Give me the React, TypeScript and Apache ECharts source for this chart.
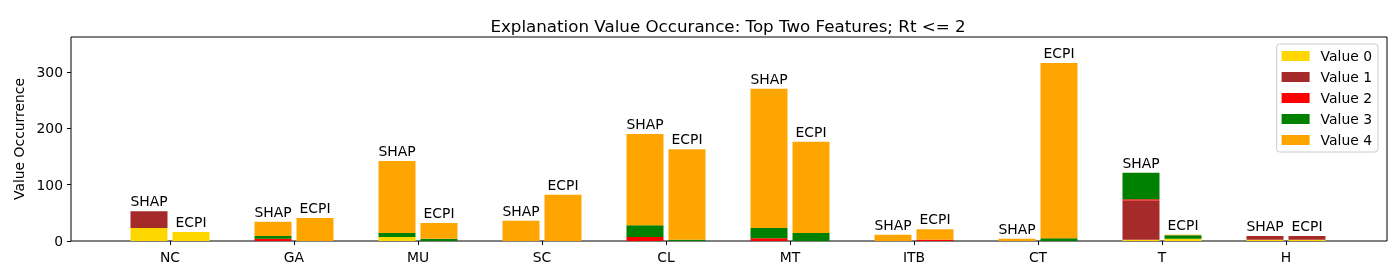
import React, { useEffect, useRef } from "react";
import * as echarts from "echarts";

const categories = ["NC", "GA", "MU", "SC", "CL", "MT", "ITB", "CT", "T", "H"];
const valueNames = ["Value 0", "Value 1", "Value 2", "Value 3", "Value 4"];
const valueColors = ["#FFD700", "#A52A2A", "#FF0000", "#008000", "#FFA500"];

// SHAP stacks
const shapV0 = [23, 0, 7, 0, 0, 0, 0, 0, 2, 2];
const shapV1 = [30, 0, 0, 0, 0, 0, 0, 0, 70, 7];
const shapV2 = [0, 4, 0, 0, 7, 5, 0, 0, 2, 0];
const shapV3 = [0, 5, 7, 0, 21, 18, 0, 0, 47, 0];
const shapV4 = [0, 25, 128, 36, 162, 247, 11, 4, 0, 0];

// ECPI stacks
const ecpiV0 = [16, 0, 0, 0, 0, 0, 0, 0, 4, 2];
const ecpiV1 = [0, 0, 0, 0, 0, 0, 0, 0, 0, 7];
const ecpiV2 = [0, 0, 0, 0, 0, 0, 2, 0, 0, 0];
const ecpiV3 = [0, 0, 4, 0, 2, 14, 0, 5, 6, 0];
const ecpiV4 = [0, 41, 28, 82, 161, 162, 19, 311, 1, 0];

const yTicks = [0, 100, 200, 300];
const yMax = 362;

const FONT = "DejaVu Sans";

export default function App() {
  const ref = useRef<HTMLDivElement>(null);
  useEffect(() => {
    if (!ref.current) return;
    const chart = echarts.init(ref.current, null, { renderer: "svg" });
    const shap = [shapV0, shapV1, shapV2, shapV3, shapV4];
    const ecpi = [ecpiV0, ecpiV1, ecpiV2, ecpiV3, ecpiV4];
    const makeSeries = (groups: number[][], stack: string, label: string) =>
      groups.map((vals, i) => ({
        type: "bar",
        name: valueNames[i],
        stack,
        xAxisIndex: 1,
        yAxisIndex: 1,
        barWidth: 37,
        barGap: "13.5%",
        itemStyle: { color: valueColors[i] },
        data: vals,
        label:
          i === groups.length - 1
            ? {
                show: true,
                position: "top",
                distance: 3,
                formatter: () => label,
                color: "#000",
                fontFamily: FONT,
                fontSize: 13.9,
              }
            : { show: false },
      }));
    const series = [...makeSeries(shap, "SHAP", "SHAP"), ...makeSeries(ecpi, "ECPI", "ECPI")];
    chart.setOption({
      animation: false,
      textStyle: { fontFamily: FONT },
      title: {
        text: "Explanation Value Occurance: Top Two Features; Rt <= 2",
        left: 723,
        textAlign: "center",
        top: 12,
        textStyle: { fontFamily: FONT, fontSize: 16.7, fontWeight: "normal", color: "#000" },
      },
      legend: {
        orient: "vertical",
        right: 22,
        top: 44,
        data: valueNames,
        itemWidth: 28,
        itemHeight: 10,
        itemGap: 7,
        padding: [5, 6, 5, 5],
        backgroundColor: "#fff",
        borderColor: "#cccccc",
        borderWidth: 1,
        borderRadius: 3,
        icon: "rect",
        textStyle: { fontFamily: FONT, fontSize: 13.9, color: "#000", padding: [0, 0, 0, 6] },
      },
      grid: [
        { left: 71, top: 37, width: 1316, height: 204, show: true, borderColor: "#000", borderWidth: 1, backgroundColor: "transparent" },
        { left: 108, top: 37, width: 1240, height: 204 },
      ],
      xAxis: [
        { type: "value", gridIndex: 0, show: false, min: 0, max: 1 },
        {
          type: "category",
          gridIndex: 1,
          data: categories,
          axisLine: { show: false },
          axisTick: { show: true, alignWithLabel: true, length: 4, lineStyle: { color: "#000" } },
          axisLabel: { color: "#000", fontFamily: FONT, fontSize: 13.9, margin: 9 },
        },
      ],
      yAxis: [
        {
          type: "value",
          gridIndex: 0,
          min: 0,
          max: yMax,
          splitLine: { show: false },
          axisLine: { show: false },
          axisTick: { show: true, length: 4, lineStyle: { color: "#000" }, customValues: yTicks },
          axisLabel: {
            color: "#000",
            fontFamily: FONT,
            fontSize: 13.9,
            margin: 8,
            customValues: yTicks,
          },
          name: "Value Occurrence",
          nameLocation: "middle",
          nameGap: 44,
          nameTextStyle: { color: "#000", fontFamily: FONT, fontSize: 13.9 },
        },
        { type: "value", gridIndex: 1, min: 0, max: yMax, show: false },
      ],
      series,
    });
    return () => chart.dispose();
  }, []);
  return <div ref={ref} style={{ position: "fixed", left: 0, top: 0, width: 1400, height: 280 }} />;
}
